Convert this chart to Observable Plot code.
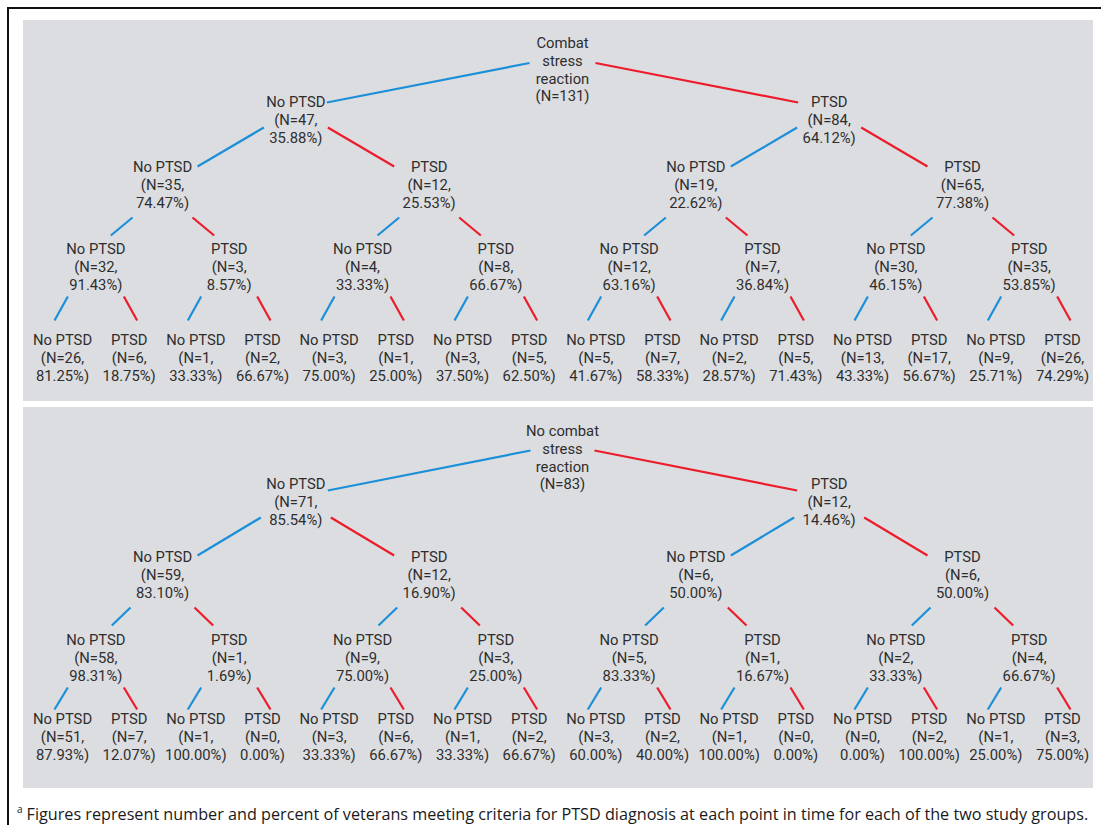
<!DOCTYPE html>
<html>
<head>
<meta charset="utf-8">
<script src="https://cdn.jsdelivr.net/npm/d3@7"></script>
<script src="https://cdn.jsdelivr.net/npm/@observablehq/plot@0.6"></script>
<style>
  html, body { margin: 0; padding: 0; background: #fff; }
  body { width: 1101px; height: 825px; position: relative; overflow: hidden; font-family: "Open Sans", sans-serif; }
  #frameTop { position: absolute; left: 7px; top: 7px; width: 1094px; height: 2px; background: #111; }
  #frameLeft { position: absolute; left: 7px; top: 7px; width: 2px; height: 818px; background: #111; }
  .panel { position: absolute; left: 23px; width: 1070px; height: 381px; }
  #p1 { top: 20px; }
  #p2 { top: 407px; }
  #note { position: absolute; left: 17px; top: 799px; font-size: 16.2px; line-height: 22px; color: #1a1a1a; white-space: nowrap; }
  #note sup { font-size: 10px; position: relative; top: -1px; margin-right: 4px; }
</style>
</head>
<body>
<div id="frameTop"></div>
<div id="frameLeft"></div>
<div class="panel" id="p1"></div>
<div class="panel" id="p2"></div>
<div id="note"><sup>a</sup>Figures represent number and percent of veterans meeting criteria for PTSD diagnosis at each point in time for each of the two study groups.</div>
<script>
// ---------- DATA ----------
const branchLabels = ["No PTSD", "PTSD"];

const combatRootLabel = "Combat\nstress\nreaction";
const combatRootN = 131;
const combatN = [
  [47, 84],
  [35, 12, 19, 65],
  [32, 3, 4, 8, 12, 7, 30, 35],
  [26, 6, 1, 2, 3, 1, 3, 5, 5, 7, 2, 5, 13, 17, 9, 26]
];
const combatPct = [
  [35.88, 64.12],
  [74.47, 25.53, 22.62, 77.38],
  [91.43, 8.57, 33.33, 66.67, 63.16, 36.84, 46.15, 53.85],
  [81.25, 18.75, 33.33, 66.67, 75.00, 25.00, 37.50, 62.50, 41.67, 58.33, 28.57, 71.43, 43.33, 56.67, 25.71, 74.29]
];

const noCombatRootLabel = "No combat\nstress\nreaction";
const noCombatRootN = 83;
const noCombatN = [
  [71, 12],
  [59, 12, 6, 6],
  [58, 1, 9, 3, 5, 1, 2, 4],
  [51, 7, 1, 0, 3, 6, 1, 2, 3, 2, 1, 0, 0, 2, 1, 3]
];
const noCombatPct = [
  [85.54, 14.46],
  [83.10, 16.90, 50.00, 50.00],
  [98.31, 1.69, 75.00, 25.00, 83.33, 16.67, 33.33, 66.67],
  [87.93, 12.07, 100.00, 0.00, 33.33, 66.67, 33.33, 66.67, 60.00, 40.00, 100.00, 0.00, 0.00, 100.00, 25.00, 75.00]
];

// ---------- LAYOUT (not data) ----------
const W = 1070, H = 381, ML = 39, MR = 31;
const pxPerLeaf = (W - ML - MR) / 15;
const BLUE = "#1b8fd8", RED = "#ec1c2a";

const layout1 = {
  levelY: [48.5, 99, 164, 246, 337],
  edge: [[-33, -6, 31, -17], [-32, 8, 35, -18], [-30, 33, 15, -31], [-28, 30, -8, -37]]
};
const layout2 = {
  levelY: [49.5, 94, 167, 250, 329],
  edge: [[-32, -6.5, 32, -11], [-35, 16, 35, -19], [-32, 33, 16, -32], [-28, 30, -8, -27]]
};

function buildTree(rootLabel, rootN, levelsN, levelsPct, lay) {
  const nodes = [{depth: 0, i: 0, x: 7.5, y: lay.levelY[0], label: `${rootLabel}\n(N=${rootN})`}];
  levelsN.forEach((arr, k) => {
    const depth = k + 1;
    arr.forEach((n, i) => {
      const x = (i + 0.5) * Math.pow(2, 4 - depth) - 0.5;
      nodes.push({
        depth, i, x, y: lay.levelY[depth],
        label: `${branchLabels[i % 2]}\n(N=${n},\n${levelsPct[k][i].toFixed(2)}%)`
      });
    });
  });
  const byKey = new Map(nodes.map(d => [d.depth + ":" + d.i, d]));
  const edges = nodes.filter(d => d.depth > 0).map(c => {
    const p = byKey.get((c.depth - 1) + ":" + Math.floor(c.i / 2));
    const side = c.i % 2;
    const s = side ? -1 : 1;
    const o = lay.edge[c.depth - 1];
    return {
      x1: p.x + s * o[0] / pxPerLeaf, y1: p.y + o[1],
      x2: c.x + s * o[2] / pxPerLeaf, y2: c.y + o[3],
      side
    };
  });
  return {nodes, edges};
}

function drawTree(tree) {
  return Plot.plot({
    width: W, height: H,
    marginLeft: ML, marginRight: MR, marginTop: 0, marginBottom: 0,
    x: {domain: [0, 15], axis: null},
    y: {domain: [0, H], range: [0, H], axis: null},
    style: {background: "#dcdde0", fontFamily: "Roboto, sans-serif", overflow: "visible"},
    marks: [
      Plot.link(tree.edges, {
        x1: "x1", y1: "y1", x2: "x2", y2: "y2",
        stroke: d => d.side ? RED : BLUE,
        strokeWidth: 2.2
      }),
      Plot.text(tree.nodes, {
        x: "x", y: "y", text: "label",
        lineAnchor: "middle", textAnchor: "middle",
        fontSize: 14.8, lineHeight: 1.2, fill: "#2e2e2e"
      })
    ]
  });
}

document.getElementById("p1").appendChild(drawTree(buildTree(combatRootLabel, combatRootN, combatN, combatPct, layout1)));
document.getElementById("p2").appendChild(drawTree(buildTree(noCombatRootLabel, noCombatRootN, noCombatN, noCombatPct, layout2)));
</script>
</body>
</html>
